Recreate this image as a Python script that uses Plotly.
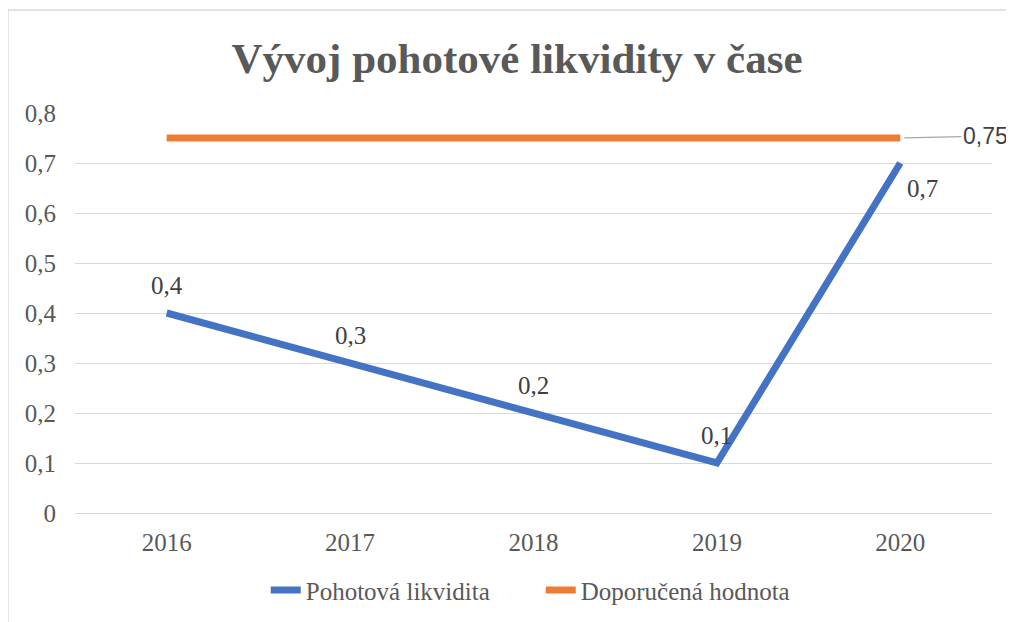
import plotly.graph_objects as go

years = ["2016", "2017", "2018", "2019", "2020"]
pohotova = [0.4, 0.3, 0.2, 0.1, 0.7]
doporucena = [0.75, 0.75, 0.75, 0.75, 0.75]
y_ticks = [0, 0.1, 0.2, 0.3, 0.4, 0.5, 0.6, 0.7, 0.8]

SERIF = "Liberation Serif"
GRAY = "#595959"
BLUE = "#4472C4"
ORANGE = "#ED7D31"
GRID = "#D9D9D9"

fig = go.Figure()
fig.add_trace(go.Scatter(
    x=years, y=pohotova, mode="lines", name="Pohotová likvidita",
    line=dict(color=BLUE, width=7),
))
fig.add_trace(go.Scatter(
    x=years, y=doporucena, mode="lines", name="Doporučená hodnota",
    line=dict(color=ORANGE, width=7),
))

def fmt(v):
    return str(v).replace(".", ",")

# data labels for blue series (category index positions)
for i, v in enumerate(pohotova):
    if i == len(pohotova) - 1:
        fig.add_annotation(x=i, y=v, text=fmt(v), showarrow=False,
                           xshift=22, yshift=-25,
                           font=dict(family=SERIF, size=25, color="#404040"))
    else:
        fig.add_annotation(x=i, y=v, text=fmt(v), showarrow=False,
                           yshift=28,
                           font=dict(family=SERIF, size=25, color="#404040"))

# label for orange series at last point, with leader line
last = len(doporucena) - 1
fig.add_annotation(x=last, y=doporucena[last], text=fmt(doporucena[last]),
                   showarrow=True, arrowhead=0, arrowwidth=1.3, arrowcolor="#A6A6A6",
                   ax=85, ay=-2, standoff=4,
                   font=dict(family="Liberation Sans", size=23, color="#404040"))

fig.update_layout(
    width=1006, height=614,
    paper_bgcolor="white", plot_bgcolor="white",
    separators=", ",
    margin=dict(l=67, r=22, t=105, b=109, autoexpand=False),
    title=dict(text="<b>Vývoj pohotové likvidity v čase</b>", x=0.506, xanchor="center",
               y=0.918, yanchor="middle",
               font=dict(family=SERIF, size=43, color=GRAY)),
    xaxis=dict(type="category", range=[-0.5, 4.5], showgrid=False, showline=False,
               zeroline=False, ticks="", ticklabelstandoff=12, automargin=False,
               tickfont=dict(family=SERIF, size=25, color=GRAY)),
    yaxis=dict(range=[0, 0.8], tickvals=y_ticks, showgrid=True, gridcolor=GRID,
               gridwidth=1.3, zeroline=True, zerolinecolor=GRID, zerolinewidth=1.3,
               showline=False, ticks="", ticklabelstandoff=18, automargin=False,
               tickfont=dict(family=SERIF, size=25, color=GRAY)),
    legend=dict(orientation="h", x=0.208, xanchor="left", y=-0.193, yanchor="middle",
                font=dict(family=SERIF, size=25, color=GRAY),
                entrywidth=230, entrywidthmode="pixels", tracegroupgap=0),
    showlegend=True,
)

# outer chart border (left and top visible)
fig.add_shape(type="rect", xref="paper", yref="paper",
              x0=(8 - 75) / 917, x1=1.1, y0=-0.4, y1=(513 - 10) / 400,
              line=dict(color=GRID, width=1.3), fillcolor="rgba(0,0,0,0)", layer="below")

fig.write_html("out.html")
